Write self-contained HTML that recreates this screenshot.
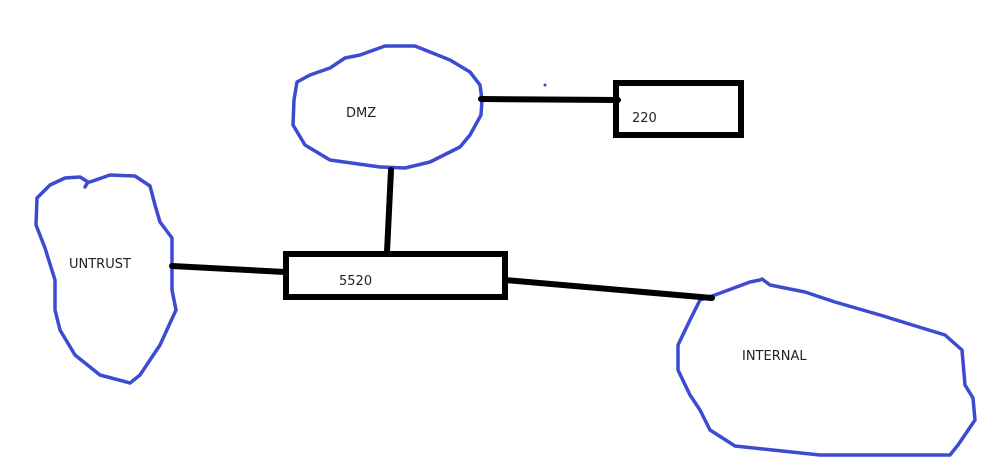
<!DOCTYPE html>
<html><head><meta charset="utf-8"><style>
html,body{margin:0;padding:0;background:#fff;}
svg{display:block;}
text{font-family:"DejaVu Sans","Liberation Sans",sans-serif;font-size:13px;fill:#222;}
</style></head><body>
<svg width="998" height="470" viewBox="0 0 998 470" xmlns="http://www.w3.org/2000/svg">
<g fill="none" stroke="#3d4bd0" stroke-width="3.5" stroke-linejoin="round" stroke-linecap="round">
<path d="M330,68 L345,58 L360,55 L385,46 L415,46 L450,60 L470,72 L480,85 L482,100 L481,115 L470,135 L460,147 L430,162 L405,168 L380,167 L330,160 L305,145 L293,125 L294,100 L297,82 L310,75 Z"/>
<path d="M85,187 L88,182 L80,177 L65,178 L50,185 L37,198 L36,225 L45,248 L55,280 L55,310 L60,330 L75,355 L100,375 L130,383 L140,375 L160,345 L176,310 L172,290 L172,260 L172,238 L160,222 L155,205 L150,186 L135,176 L110,175 L90,182"/>
<path d="M762,279 L770,285 L805,292 L835,302 L880,315 L945,335 L962,350 L965,385 L973,398 L975,420 L958,445 L950,455 L820,455 L735,446 L710,430 L700,410 L690,395 L678,370 L678,345 L690,320 L700,300 L715,295 L750,282 L760,280"/>
</g>
<circle cx="545" cy="85" r="1.5" fill="#3d4bd0"/>
<g stroke="#000" stroke-width="6" stroke-linecap="round" fill="none">
<line x1="481" y1="99" x2="618" y2="100"/>
<line x1="391" y1="170" x2="387" y2="252"/>
<line x1="172" y1="266" x2="285" y2="272"/>
<line x1="505" y1="280" x2="712" y2="298"/>
</g>
<rect x="616" y="83" width="125" height="52" fill="none" stroke="#000" stroke-width="6"/>
<rect x="286" y="254" width="219" height="43" fill="none" stroke="#000" stroke-width="6"/>
<text x="346" y="117">DMZ</text>
<text x="632" y="122">220</text>
<text x="339" y="285">5520</text>
<text x="69" y="268">UNTRUST</text>
<text x="742" y="360">INTERNAL</text>
</svg>
</body></html>
